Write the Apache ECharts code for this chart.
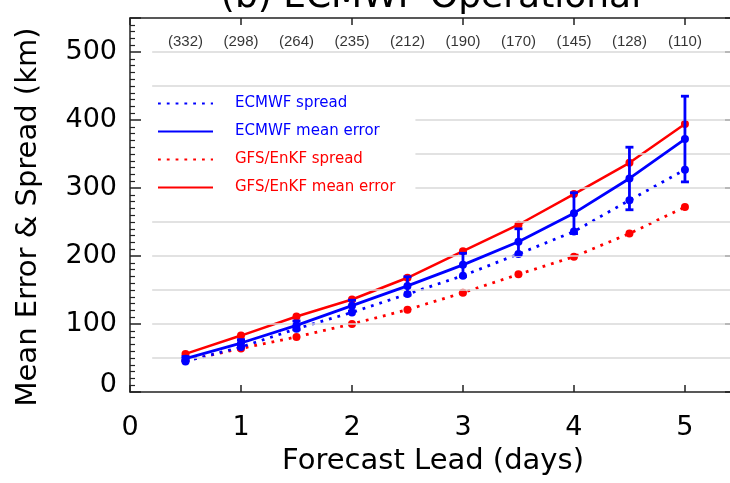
<!DOCTYPE html>
<html>
<head>
<meta charset="utf-8">
<script src="https://cdn.jsdelivr.net/npm/echarts@6/dist/echarts.min.js"></script>
<style>
  html, body { margin: 0; padding: 0; background: #fff; overflow: hidden; }
  #chart { width: 730px; height: 483px; }
</style>
</head>
<body>
<div id="chart"></div>
<script>
// forecast lead (days)
const leadDays = [0.5, 1, 1.5, 2, 2.5, 3, 3.5, 4, 4.5, 5];
// number of cases at each lead
const sampleCounts = [332, 298, 264, 235, 212, 190, 170, 145, 128, 110];
// values in km
const ecmwfSpread = [45, 66, 93, 117, 144, 171, 203, 236, 282, 327];
const ecmwfMeanError = [49, 72, 98, 127, 156, 187, 221, 263, 314, 372];
const ecmwfErrorBar = [3, 5, 6.5, 8, 13.5, 17, 19, 30, 46, 63]; // half length
const gfsSpread = [46, 64, 81, 100, 121, 146, 173, 199, 233, 272];
const gfsMeanError = [56, 83, 111, 136, 168, 207, 246, 291, 337, 394];
const gridValues = [50, 100, 150, 200, 250, 300, 350, 400, 450, 500];

const FONT = "DejaVu Sans";
const BLUE = "#0000ff";
const RED = "#ff0000";
const AXIS = "#222";

const pairs = (ys) => leadDays.map((d, i) => [d, ys[i]]);

const chart = echarts.init(document.getElementById("chart"));

const baseX = {
  type: "value",
  min: 0,
  max: 5.46,
  interval: 1,
  splitLine: { show: false },
  axisLine: { onZero: false, lineStyle: { color: AXIS, width: 1.5 } },
  axisTick: { inside: true, length: 7, lineStyle: { color: AXIS, width: 1.5 } }
};
const baseY = {
  type: "value",
  min: 0,
  max: 550,
  interval: 100,
  splitLine: { show: false },
  axisLine: { show: true, onZero: false, lineStyle: { color: AXIS, width: 1.5 } },
  axisTick: { show: true, inside: true, length: 11, lineStyle: { color: AXIS, width: 1.5 } },
  minorTick: { show: true, splitNumber: 10, length: 5, lineStyle: { color: AXIS, width: 1.2 } }
};

const option = {
  animation: false,
  textStyle: { fontFamily: FONT },
  grid: { left: 130, width: 606, top: 18, height: 374, containLabel: false, outerBoundsMode: "none" },
  graphic: [
    {
      type: "text",
      x: 431,
      y: -2,
      style: {
        text: "(b) ECMWF Operational",
        font: "36px " + FONT,
        fill: "#000",
        align: "center",
        verticalAlign: "middle"
      }
    },
    {
      type: "text",
      x: 28,
      y: 217,
      rotation: Math.PI / 2,
      style: {
        text: "Mean Error & Spread (km)",
        font: "29px " + FONT,
        fill: "#000",
        align: "center",
        verticalAlign: "middle"
      }
    }
  ],
  legend: {
    orient: "vertical",
    left: 150,
    top: 92,
    z: 10,
    padding: [4, 20, 8, 7],
    backgroundColor: "#fff",
    itemWidth: 55,
    itemHeight: 14,
    itemGap: 13,
    selectedMode: false,
    itemStyle: { opacity: 0 },
    textStyle: { fontSize: 15, fontFamily: FONT, padding: [0, 0, 0, 17] },
    data: [
      { name: "ECMWF spread", textStyle: { color: BLUE } },
      { name: "ECMWF mean error", textStyle: { color: BLUE } },
      { name: "GFS/EnKF spread", textStyle: { color: RED } },
      { name: "GFS/EnKF mean error", textStyle: { color: RED } }
    ]
  },
  xAxis: [
    Object.assign({}, baseX, {
      position: "bottom",
      name: "Forecast Lead (days)",
      nameLocation: "middle",
      nameGap: 55,
      nameTextStyle: { fontSize: 29, color: "#000", fontFamily: FONT },
      axisLabel: { fontSize: 27, color: "#000", margin: 22, showMaxLabel: false, fontFamily: FONT }
    }),
    Object.assign({}, baseX, {
      position: "top",
      axisLabel: { show: false }
    })
  ],
  yAxis: [
    Object.assign({}, baseY, {
      position: "left",
      axisLabel: {
        fontSize: 27,
        color: "#000",
        margin: 13,
        showMaxLabel: false,
        fontFamily: FONT,
        formatter: (v) => (v === 0 ? "{z|0}" : String(v)),
        rich: { z: { fontSize: 27, color: "#000", fontFamily: FONT, padding: [0, 0, 14, 0] } }
      }
    }),
    Object.assign({}, baseY, {
      position: "right",
      axisLabel: { show: false }
    })
  ],
  series: [
    {
      name: "GFS/EnKF spread",
      type: "line",
      data: pairs(gfsSpread),
      symbol: "circle",
      symbolSize: 8,
      color: RED,
      lineStyle: { color: RED, width: 2.8, type: [2.8, 6] },
      markLine: {
        silent: true,
        symbol: "none",
        label: { show: false },
        lineStyle: { color: "#d8d8d8", width: 1.5, type: "solid" },
        data: gridValues.map((v) => [{ coord: [0.2, v] }, { coord: [5.46, v] }])
      },
      z: 2
    },
    {
      name: "ECMWF spread",
      type: "line",
      data: pairs(ecmwfSpread),
      symbol: "circle",
      symbolSize: 8,
      color: BLUE,
      lineStyle: { color: BLUE, width: 2.8, type: [2.8, 6] },
      z: 3
    },
    {
      name: "GFS/EnKF mean error",
      type: "line",
      data: pairs(gfsMeanError),
      symbol: "circle",
      symbolSize: 8,
      color: RED,
      lineStyle: { color: RED, width: 2.5 },
      z: 4
    },
    {
      name: "ECMWF mean error",
      type: "line",
      data: pairs(ecmwfMeanError),
      symbol: "circle",
      symbolSize: 8,
      color: BLUE,
      lineStyle: { color: BLUE, width: 2.8 },
      z: 5
    },
    {
      name: "error bar",
      type: "custom",
      z: 6,
      data: leadDays.map((d, i) => [d, ecmwfMeanError[i] - ecmwfErrorBar[i], ecmwfMeanError[i] + ecmwfErrorBar[i]]),
      renderItem: (params, api) => {
        const lo = api.coord([api.value(0), api.value(1)]);
        const hi = api.coord([api.value(0), api.value(2)]);
        const w = 4;
        const style = { stroke: BLUE, lineWidth: 2.8, fill: null };
        return {
          type: "group",
          children: [
            { type: "line", shape: { x1: lo[0], y1: lo[1], x2: hi[0], y2: hi[1] }, style },
            { type: "line", shape: { x1: lo[0] - w, y1: lo[1], x2: lo[0] + w, y2: lo[1] }, style },
            { type: "line", shape: { x1: hi[0] - w, y1: hi[1], x2: hi[0] + w, y2: hi[1] }, style }
          ]
        };
      }
    },
    {
      name: "counts",
      type: "scatter",
      symbolSize: 0,
      data: leadDays.map((d, i) => [d, 515, sampleCounts[i]]),
      label: {
        show: true,
        position: "inside",
        fontSize: 15,
        color: "#000",
        fontFamily: "Liberation Sans",
        formatter: (p) => "(" + p.value[2] + ")"
      },
      z: 7
    }
  ]
};

chart.setOption(option);
</script>
</body>
</html>
